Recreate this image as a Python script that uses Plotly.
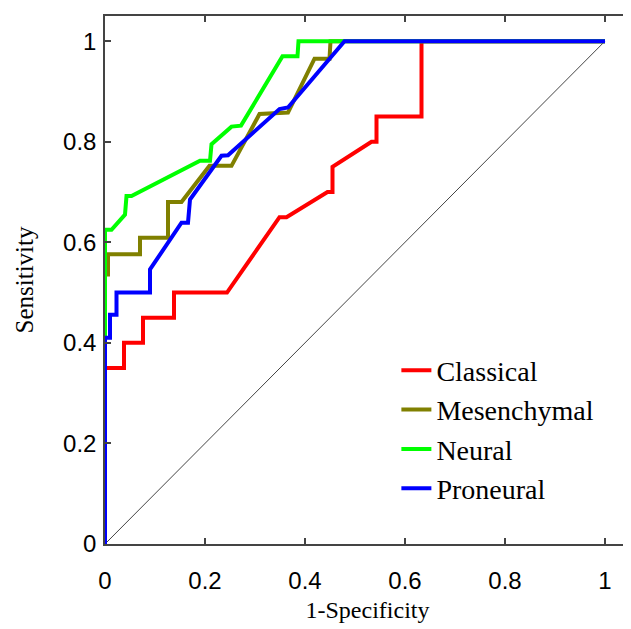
import plotly.graph_objects as go

# ROC curves (1-Specificity, Sensitivity)
classical_x = [0, 0, 0.038, 0.038, 0.076, 0.076, 0.138, 0.138, 0.244, 0.349, 0.363,
               0.445, 0.455, 0.455, 0.533, 0.543, 0.543, 0.633, 0.633, 1.0]
classical_y = [0, 0.35, 0.35, 0.40, 0.40, 0.45, 0.45, 0.50, 0.50, 0.65, 0.65,
               0.70, 0.70, 0.75, 0.80, 0.80, 0.85, 0.85, 1.0, 1.0]

mesenchymal_x = [0, 0, 0.006, 0.006, 0.07, 0.07, 0.126, 0.126, 0.153, 0.209, 0.253,
                 0.309, 0.366, 0.419, 0.449, 0.451, 1.0]
mesenchymal_y = [0, 0.536, 0.536, 0.576, 0.576, 0.609, 0.609, 0.68, 0.68, 0.752, 0.752,
                 0.855, 0.858, 0.965, 0.965, 1.0, 1.0]

neural_x = [0, 0, 0.013, 0.04, 0.043, 0.053, 0.19, 0.21, 0.213, 0.253, 0.272,
            0.355, 0.385, 0.387, 1.0]
neural_y = [0, 0.625, 0.625, 0.655, 0.692, 0.692, 0.762, 0.762, 0.795, 0.83, 0.832,
            0.97, 0.97, 1.0, 1.0]

proneural_x = [0, 0, 0.01, 0.01, 0.023, 0.023, 0.09, 0.09, 0.153, 0.166, 0.17,
               0.233, 0.246, 0.349, 0.366, 0.479, 1.0]
proneural_y = [0, 0.41, 0.41, 0.456, 0.456, 0.5, 0.5, 0.546, 0.639, 0.639, 0.685,
               0.772, 0.773, 0.865, 0.868, 1.0, 1.0]

chance_x = [0, 1]
chance_y = [0, 1]

tick_vals = [0, 0.2, 0.4, 0.6, 0.8, 1.0]
tick_text = ["0", "0.2", "0.4", "0.6", "0.8", "1"]

series = [
    ("Classical", classical_x, classical_y, "#ff0000"),
    ("Mesenchymal", mesenchymal_x, mesenchymal_y, "#808000"),
    ("Neural", neural_x, neural_y, "#00ff00"),
    ("Proneural", proneural_x, proneural_y, "#0000ff"),
]

fig = go.Figure()
fig.add_trace(go.Scatter(x=chance_x, y=chance_y, mode="lines",
                         line=dict(color="#444444", width=1), showlegend=False,
                         hoverinfo="skip"))
for name, xs, ys, col in series:
    fig.add_trace(go.Scatter(x=xs, y=ys, mode="lines", name=name, legendgroup=name,
                             line=dict(color=col, width=4)))

axis_common = dict(
    showgrid=False, zeroline=False, showline=True, linecolor="#444444", linewidth=1.5,
    mirror="ticks", ticks="inside", ticklen=6, tickwidth=1.5, tickcolor="#444444",
    tickvals=tick_vals, ticktext=tick_text,
    tickfont=dict(family="Liberation Sans, Arial, sans-serif", size=24, color="black"),
)

serif = "Liberation Serif, Times New Roman, serif"

fig.update_layout(
    width=624, height=621,
    margin=dict(l=97, r=0, t=8, b=85),
    paper_bgcolor="white", plot_bgcolor="white",
    xaxis=dict(range=[0, 1.05], ticklabelstandoff=14,
               title=dict(text="1-Specificity", standoff=9,
                          font=dict(family=serif, size=24, color="black")),
               **axis_common),
    yaxis=dict(range=[0, 1.05], ticklabelstandoff=2,
               title=dict(text="Sensitivity", standoff=22,
                          font=dict(family=serif, size=25, color="black")),
               **axis_common),
    legend=dict(x=0.555, y=0.376, xanchor="left", yanchor="top",
                bgcolor="rgba(0,0,0,0)", tracegroupgap=0,
                font=dict(family=serif, size=28, color="black")),
)

fig.write_html("out.html")
